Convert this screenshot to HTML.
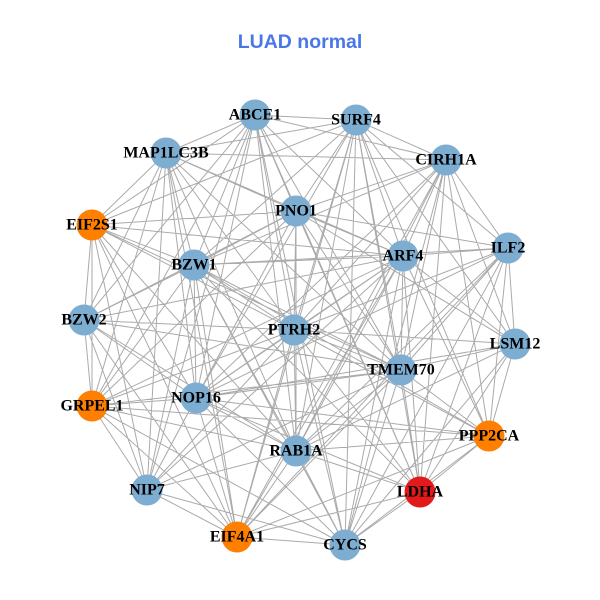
<!DOCTYPE html>
<html><head><meta charset="utf-8"><style>
html,body{margin:0;padding:0;background:#fff;}
svg{display:block;}
text.l{font-family:"Liberation Serif",serif;font-weight:bold;font-size:16px;fill:#000;text-anchor:middle;dominant-baseline:central;}
</style></head><body>
<svg width="600" height="600" viewBox="0 0 600 600">
<rect width="600" height="600" fill="#fff"/>
<text x="300" y="42" text-anchor="middle" dominant-baseline="central" font-family="Liberation Sans, sans-serif" font-weight="bold" font-size="19.5" fill="#4a77e8">LUAD normal</text>
<path fill="none" stroke="#aaaaaa" stroke-width="1" d="
M255 115L356 120M255 115L166 153M255 115L446 160M255 115L296 211M255 115L92 225M255 115L403 256M255 115L194 265M255 115L84 320M255 115L294 330M255 115L401 370M255 115L196 398M255 115L92 406M255 115L296 451M255 115L147 490M255 115L420 492M255 115L345 545
M356 120L166 153M356 120L446 160M356 120L296 211M356 120L92 225M356 120L403 256M356 120L508 248M356 120L194 265M356 120L294 330M356 120L515 344M356 120L401 370M356 120L196 398M356 120L489 436M356 120L296 451M356 120L420 492M356 120L237 537M356 120L345 545
M166 153L446 160M166 153L296 211M166 153L92 225M166 153L403 256M166 153L194 265M166 153L84 320M166 153L294 330M166 153L401 370M166 153L196 398M166 153L92 406M166 153L296 451M166 153L147 490M166 153L237 537
M446 160L296 211M446 160L403 256M446 160L508 248M446 160L194 265M446 160L294 330M446 160L515 344M446 160L401 370M446 160L196 398M446 160L489 436M446 160L296 451M446 160L420 492M446 160L237 537M446 160L345 545
M296 211L92 225M296 211L403 256M296 211L508 248M296 211L194 265M296 211L84 320M296 211L294 330M296 211L515 344M296 211L401 370M296 211L196 398M296 211L92 406M296 211L296 451M296 211L147 490M296 211L420 492
M92 225L403 256M92 225L194 265M92 225L84 320M92 225L294 330M92 225L401 370M92 225L196 398M92 225L92 406M92 225L296 451M92 225L147 490M92 225L237 537
M403 256L508 248M403 256L194 265M403 256L84 320M403 256L294 330M403 256L515 344M403 256L401 370M403 256L196 398M403 256L92 406M403 256L489 436M403 256L296 451M403 256L147 490M403 256L420 492M403 256L237 537M403 256L345 545
M508 248L194 265M508 248L294 330M508 248L515 344M508 248L401 370M508 248L196 398M508 248L489 436M508 248L296 451M508 248L420 492M508 248L237 537M508 248L345 545
M194 265L84 320M194 265L294 330M194 265L401 370M194 265L196 398M194 265L92 406M194 265L489 436M194 265L296 451M194 265L147 490M194 265L420 492M194 265L237 537M194 265L345 545
M84 320L294 330M84 320L401 370M84 320L196 398M84 320L92 406M84 320L296 451M84 320L147 490M84 320L237 537
M294 330L515 344M294 330L401 370M294 330L196 398M294 330L92 406M294 330L489 436M294 330L296 451M294 330L147 490M294 330L420 492M294 330L237 537M294 330L345 545
M515 344L401 370M515 344L196 398M515 344L489 436M515 344L296 451M515 344L420 492M515 344L345 545
M401 370L196 398M401 370L92 406M401 370L489 436M401 370L296 451M401 370L147 490M401 370L420 492M401 370L237 537M401 370L345 545
M196 398L92 406M196 398L489 436M196 398L296 451M196 398L147 490M196 398L420 492M196 398L237 537M196 398L345 545
M92 406L489 436M92 406L296 451M92 406L147 490M92 406L237 537M92 406L345 545
M489 436L296 451M489 436L420 492M489 436L237 537M489 436L345 545
M296 451L147 490M296 451L420 492M296 451L237 537M296 451L345 545
M147 490L237 537M147 490L345 545M420 492L237 537M420 492L345 545M237 537L345 545"/>
<g fill="#7eadd2">
<circle cx="255" cy="115" r="15.5"/><circle cx="356" cy="120" r="15.5"/><circle cx="166" cy="153" r="15.5"/><circle cx="446" cy="160" r="15.5"/><circle cx="296" cy="211" r="15.5"/><circle cx="403" cy="256" r="15.5"/><circle cx="508" cy="248" r="15.5"/><circle cx="194" cy="265" r="15.5"/><circle cx="84" cy="320" r="15.5"/><circle cx="294" cy="330" r="15.5"/><circle cx="515" cy="344" r="15.5"/><circle cx="401" cy="370" r="15.5"/><circle cx="196" cy="398" r="15.5"/><circle cx="296" cy="451" r="15.5"/><circle cx="147" cy="490" r="15.5"/><circle cx="345" cy="545" r="15.5"/>
</g>
<g fill="#ff7f00">
<circle cx="92" cy="225" r="15.5"/><circle cx="92" cy="406" r="15.5"/><circle cx="489" cy="436" r="15.5"/><circle cx="237" cy="537" r="15.5"/>
</g>
<circle cx="420" cy="492" r="15.5" fill="#e31a1c"/>
<text class="l" x="255" y="115">ABCE1</text>
<text class="l" x="356" y="120">SURF4</text>
<text class="l" x="166" y="153">MAP1LC3B</text>
<text class="l" x="446" y="160">CIRH1A</text>
<text class="l" x="296" y="211">PNO1</text>
<text class="l" x="92" y="225">EIF2S1</text>
<text class="l" x="403" y="256">ARF4</text>
<text class="l" x="508" y="248">ILF2</text>
<text class="l" x="194" y="265">BZW1</text>
<text class="l" x="84" y="320">BZW2</text>
<text class="l" x="294" y="330">PTRH2</text>
<text class="l" x="515" y="344">LSM12</text>
<text class="l" x="401" y="370">TMEM70</text>
<text class="l" x="196" y="398">NOP16</text>
<text class="l" x="92" y="406">GRPEL1</text>
<text class="l" x="489" y="436">PPP2CA</text>
<text class="l" x="296" y="451">RAB1A</text>
<text class="l" x="147" y="490">NIP7</text>
<text class="l" x="420" y="492">LDHA</text>
<text class="l" x="237" y="537">EIF4A1</text>
<text class="l" x="345" y="545">CYCS</text>
</svg>
</body></html>
